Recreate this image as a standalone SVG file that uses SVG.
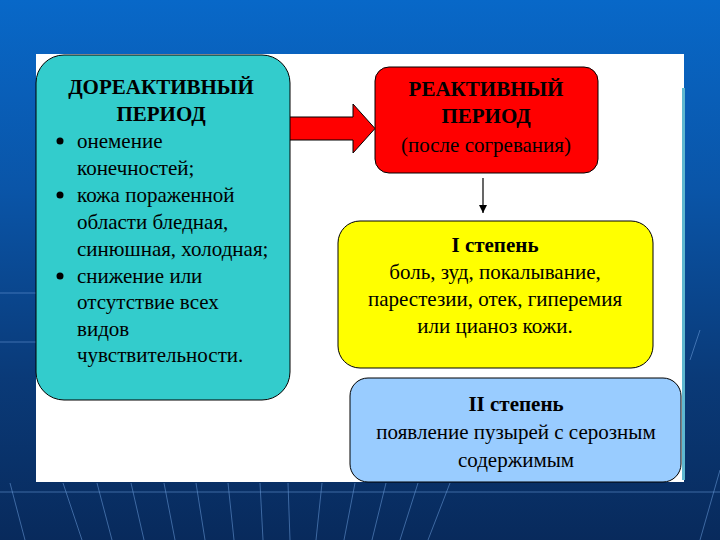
<svg xmlns="http://www.w3.org/2000/svg" width="720" height="540" viewBox="0 0 720 540">
  <defs>
    <linearGradient id="bg" x1="0" y1="0" x2="0" y2="1">
      <stop offset="0" stop-color="#0868c8"/>
      <stop offset="0.35" stop-color="#0a55a8"/>
      <stop offset="0.7" stop-color="#0a3a78"/>
      <stop offset="1" stop-color="#082a5c"/>
    </linearGradient>
    <marker id="ah" markerWidth="8" markerHeight="8" refX="8" refY="4" orient="auto" markerUnits="userSpaceOnUse">
      <path d="M0,0 L8,4 L0,8 Z" fill="#000"/>
    </marker>
    <style>
      .t { font-family: "Liberation Serif", "Times New Roman", serif; font-size: 21px; fill: #000; }
      .b { font-weight: bold; }
      .c { text-anchor: middle; }
      .box { stroke: #000; stroke-width: 1; }
      .fl { stroke: #6a9ad8; stroke-width: 1; opacity: 0.55; fill: none; }
    </style>
  </defs>

  <rect x="0" y="0" width="720" height="540" fill="url(#bg)"/>
  <g id="floor-lines">
    <line class="fl" x1="0" y1="492" x2="720" y2="492"/>
    <line class="fl" x1="0" y1="293" x2="36" y2="293"/>
    <line class="fl" x1="0" y1="342" x2="36" y2="342"/>
    <line class="fl" x1="10" y1="483" x2="25" y2="540"/>
    <line class="fl" x1="63" y1="483" x2="82" y2="540"/>
    <line class="fl" x1="97" y1="483" x2="112" y2="540"/>
    <line class="fl" x1="131" y1="483" x2="144" y2="540"/>
    <line class="fl" x1="164" y1="483" x2="175" y2="540"/>
    <line class="fl" x1="196" y1="483" x2="205" y2="540"/>
    <line class="fl" x1="228" y1="483" x2="234" y2="540"/>
    <line class="fl" x1="260" y1="483" x2="263" y2="540"/>
    <line class="fl" x1="288" y1="483" x2="290" y2="540"/>
    <line class="fl" x1="322" y1="483" x2="316" y2="540"/>
    <line class="fl" x1="355" y1="483" x2="344" y2="540"/>
    <line class="fl" x1="386" y1="483" x2="372" y2="540"/>
    <line class="fl" x1="418" y1="483" x2="400" y2="540"/>
    <line class="fl" x1="450" y1="483" x2="428" y2="540"/>
    <line class="fl" x1="700" y1="330" x2="690" y2="360"/>
    <line class="fl" x1="720" y1="470" x2="700" y2="540"/>
  </g>

  <rect x="36" y="54" width="648" height="428" fill="#ffffff"/>
  <rect x="682" y="88" width="3" height="392" fill="#5fb8d0"/>

  <g id="connectors">
    <path d="M289,117 L353,117 L353,104 L375,128.5 L353,153 L353,140 L289,140 Z" fill="#ff0000" stroke="#000" stroke-width="1"/>
    <line x1="483" y1="178" x2="483" y2="213" stroke="#000" stroke-width="1.2" marker-end="url(#ah)"/>
  </g>

  <g id="pre-reactive">
    <rect class="box" x="36" y="55" width="254" height="345" rx="28" ry="28" fill="#33cccc"/>
    <text class="t b c" x="161" y="94">ДОРЕАКТИВНЫЙ</text>
    <text class="t b c" x="161" y="121">ПЕРИОД</text>
    <circle cx="60" cy="141" r="3.5" fill="#000"/>
    <text class="t" x="77" y="148">онемение</text>
    <text class="t" x="77" y="175">конечностей;</text>
    <circle cx="60" cy="195" r="3.5" fill="#000"/>
    <text class="t" x="77" y="202">кожа пораженной</text>
    <text class="t" x="77" y="229">области бледная,</text>
    <text class="t" x="77" y="256">синюшная, холодная;</text>
    <circle cx="60" cy="276" r="3.5" fill="#000"/>
    <text class="t" x="77" y="283">снижение или</text>
    <text class="t" x="77" y="309">отсутствие всех</text>
    <text class="t" x="77" y="336">видов</text>
    <text class="t" x="77" y="362">чувствительности.</text>
  </g>

  <g id="reactive">
    <rect class="box" x="375" y="67" width="223" height="106" rx="14" ry="14" fill="#ff0000"/>
    <text class="t b c" x="486" y="96">РЕАКТИВНЫЙ</text>
    <text class="t b c" x="486" y="123">ПЕРИОД</text>
    <text class="t c" x="486" y="152">(после согревания)</text>
  </g>

  <g id="degree-1">
    <rect class="box" x="338" y="221" width="315" height="147" rx="22" ry="22" fill="#ffff00"/>
    <text class="t b c" x="495" y="252">I степень</text>
    <text class="t c" x="495" y="279">боль, зуд, покалывание,</text>
    <text class="t c" x="495" y="306">парестезии, отек, гиперемия</text>
    <text class="t c" x="495" y="333">или цианоз кожи.</text>
  </g>

  <g id="degree-2">
    <rect class="box" x="350" y="378" width="331" height="104" rx="18" ry="18" fill="#99ccff"/>
    <text class="t b c" x="516" y="411">II степень</text>
    <text class="t c" x="516" y="439">появление пузырей с серозным</text>
    <text class="t c" x="516" y="467">содержимым</text>
  </g>
</svg>
